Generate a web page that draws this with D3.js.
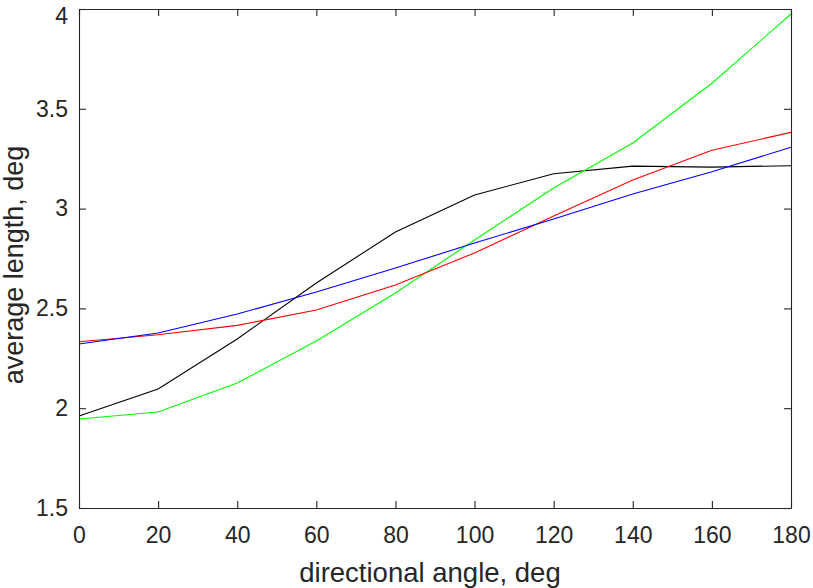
<!DOCTYPE html>
<html><head><meta charset="utf-8">
<script src="https://cdn.jsdelivr.net/npm/d3@7"></script>
<style>body{margin:0;background:#fff}svg text{font-family:"Liberation Sans",Arial,sans-serif;fill:#262626}</style>
</head><body>
<svg id="c" width="813" height="588"></svg>
<script>
const angles = [0,20,40,60,80,100,120,140,160,180];
const blackSeries = [1.961,2.096,2.347,2.627,2.883,3.068,3.175,3.213,3.208,3.215];
const greenSeries = [1.946,1.981,2.126,2.337,2.577,2.843,3.103,3.329,3.628,3.975];
const redSeries   = [2.333,2.368,2.415,2.492,2.617,2.778,2.963,3.143,3.292,3.382];
const blueSeries  = [2.322,2.377,2.472,2.582,2.702,2.828,2.948,3.073,3.185,3.307];
const xTicks = [0,20,40,60,80,100,120,140,160,180];
const yTicks = [1.5,2,2.5,3,3.5,4];
const series = [
  {values: blackSeries, color: "#000000"},
  {values: greenSeries, color: "#00ff00"},
  {values: redSeries, color: "#ff0000"},
  {values: blueSeries, color: "#0000ff"}
];
const L=79, R=791, T=9, B=508;
const svg = d3.select("#c");
const x = d3.scaleLinear().domain([0,180]).range([L,R]);
const y = d3.scaleLinear().domain([1.5,4]).range([B,T]);
const line = d3.line().x((d,i)=>x(angles[i])).y(d=>y(d));
series.forEach(s=>{
  svg.append("path").attr("d", line(s.values)).attr("fill","none")
    .attr("stroke", s.color).attr("stroke-width",1.1);
});
const ac = "#262626";
const gb = svg.append("g").attr("transform",`translate(0,${B})`)
  .call(d3.axisBottom(x).tickValues(xTicks).tickSizeInner(-7).tickSizeOuter(0).tickPadding(19));
const gt = svg.append("g").attr("transform",`translate(0,${T})`)
  .call(d3.axisTop(x).tickValues(xTicks).tickSizeInner(-7).tickSizeOuter(0).tickFormat(""));
const gl = svg.append("g").attr("transform",`translate(${L},0)`)
  .call(d3.axisLeft(y).tickValues(yTicks).tickSizeInner(-7).tickSizeOuter(0).tickPadding(11).tickFormat(d3.format("")));
const gr = svg.append("g").attr("transform",`translate(${R},0)`)
  .call(d3.axisRight(y).tickValues(yTicks).tickSizeInner(-7).tickSizeOuter(0).tickFormat(""));
[gb,gt,gl,gr].forEach(g=>{
  g.selectAll("path,line").attr("stroke",ac).attr("stroke-width",1.1);
  g.selectAll("text").style("font-size","23px").attr("fill",ac);
});
gb.selectAll("text").attr("dy","0.71em");
gl.selectAll(".tick").filter(d=>d===4).select("text").attr("dy","0.46em").attr("y",4);
svg.append("text").attr("x",430).attr("y",582).attr("text-anchor","middle")
  .style("font-size","27.5px").text("directional angle, deg");
svg.append("text").attr("transform",`translate(22.5,265) rotate(-90)`).attr("text-anchor","middle")
  .style("font-size","27px").text("average length, deg");
</script>
</body></html>
